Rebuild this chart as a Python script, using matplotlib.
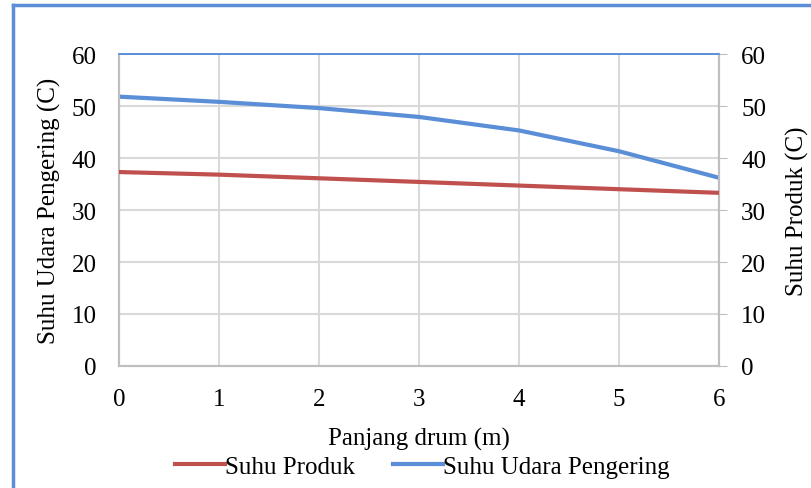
import matplotlib
matplotlib.use("Agg")
import matplotlib.pyplot as plt
from matplotlib.lines import Line2D

x = [0, 1, 2, 3, 4, 5, 6]
suhu_udara = [51.8, 50.8, 49.6, 47.9, 45.3, 41.3, 36.2]
suhu_produk = [37.3, 36.8, 36.1, 35.4, 34.7, 34.0, 33.3]
yticks = [0, 10, 20, 30, 40, 50, 60]

plt.rcParams['font.family'] = ['Liberation Serif', 'DejaVu Serif']

fig = plt.figure(figsize=(8.12, 4.89), dpi=100)
ax = fig.add_axes([0.1466, 0.2495, 0.7389, 0.638])
ax2 = ax.twinx()

blue = '#5A8ED6'
red = '#C0504D'
grid = '#D9D9D9'
fs = 18

l1, = ax2.plot(x, suhu_produk, color=red, lw=3, label='Suhu Produk', zorder=3)
l2, = ax.plot(x, suhu_udara, color=blue, lw=3, label='Suhu Udara Pengering', zorder=3)

for a in (ax, ax2):
    a.set_ylim(0, 60)
    a.set_yticks(yticks)
    a.set_xlim(0, 6)
ax.set_xticks(x)
ax.grid(True, color=grid, lw=1.5)
ax.set_axisbelow(True)

for a in (ax, ax2):
    for s in a.spines.values():
        s.set_color('#BFBFBF')
        s.set_linewidth(1.5)
    a.spines['top'].set_color(blue)
    a.spines['top'].set_linewidth(1.2)

ax.tick_params(axis='x', length=0, labelsize=fs, pad=16, colors='black')
ax.tick_params(axis='y', length=0, labelsize=fs, pad=16)
ax2.tick_params(axis='y', length=6, color='#BFBFBF', labelsize=fs, pad=10)

ax.set_ylabel('Suhu Udara Pengering (C)', fontsize=fs, labelpad=8)
ax2.set_ylabel('Suhu Produk (C)', fontsize=fs, labelpad=14)
ax.set_xlabel('Panjang drum (m)', fontsize=fs, labelpad=12)

fig.legend(handles=[l1, l2], loc='center', bbox_to_anchor=(0.52, 0.043), ncol=2,
           frameon=False, fontsize=fs, handlelength=2.0, handletextpad=0.0,
           columnspacing=1.5)

# outer frame
fig.add_artist(Line2D([0.0165, 0.0165], [0, 0.988], transform=fig.transFigure, color=blue, lw=2.5))
fig.add_artist(Line2D([0.0165, 1.0], [0.988, 0.988], transform=fig.transFigure, color=blue, lw=2.5))

fig.savefig('out.png', dpi=100)
